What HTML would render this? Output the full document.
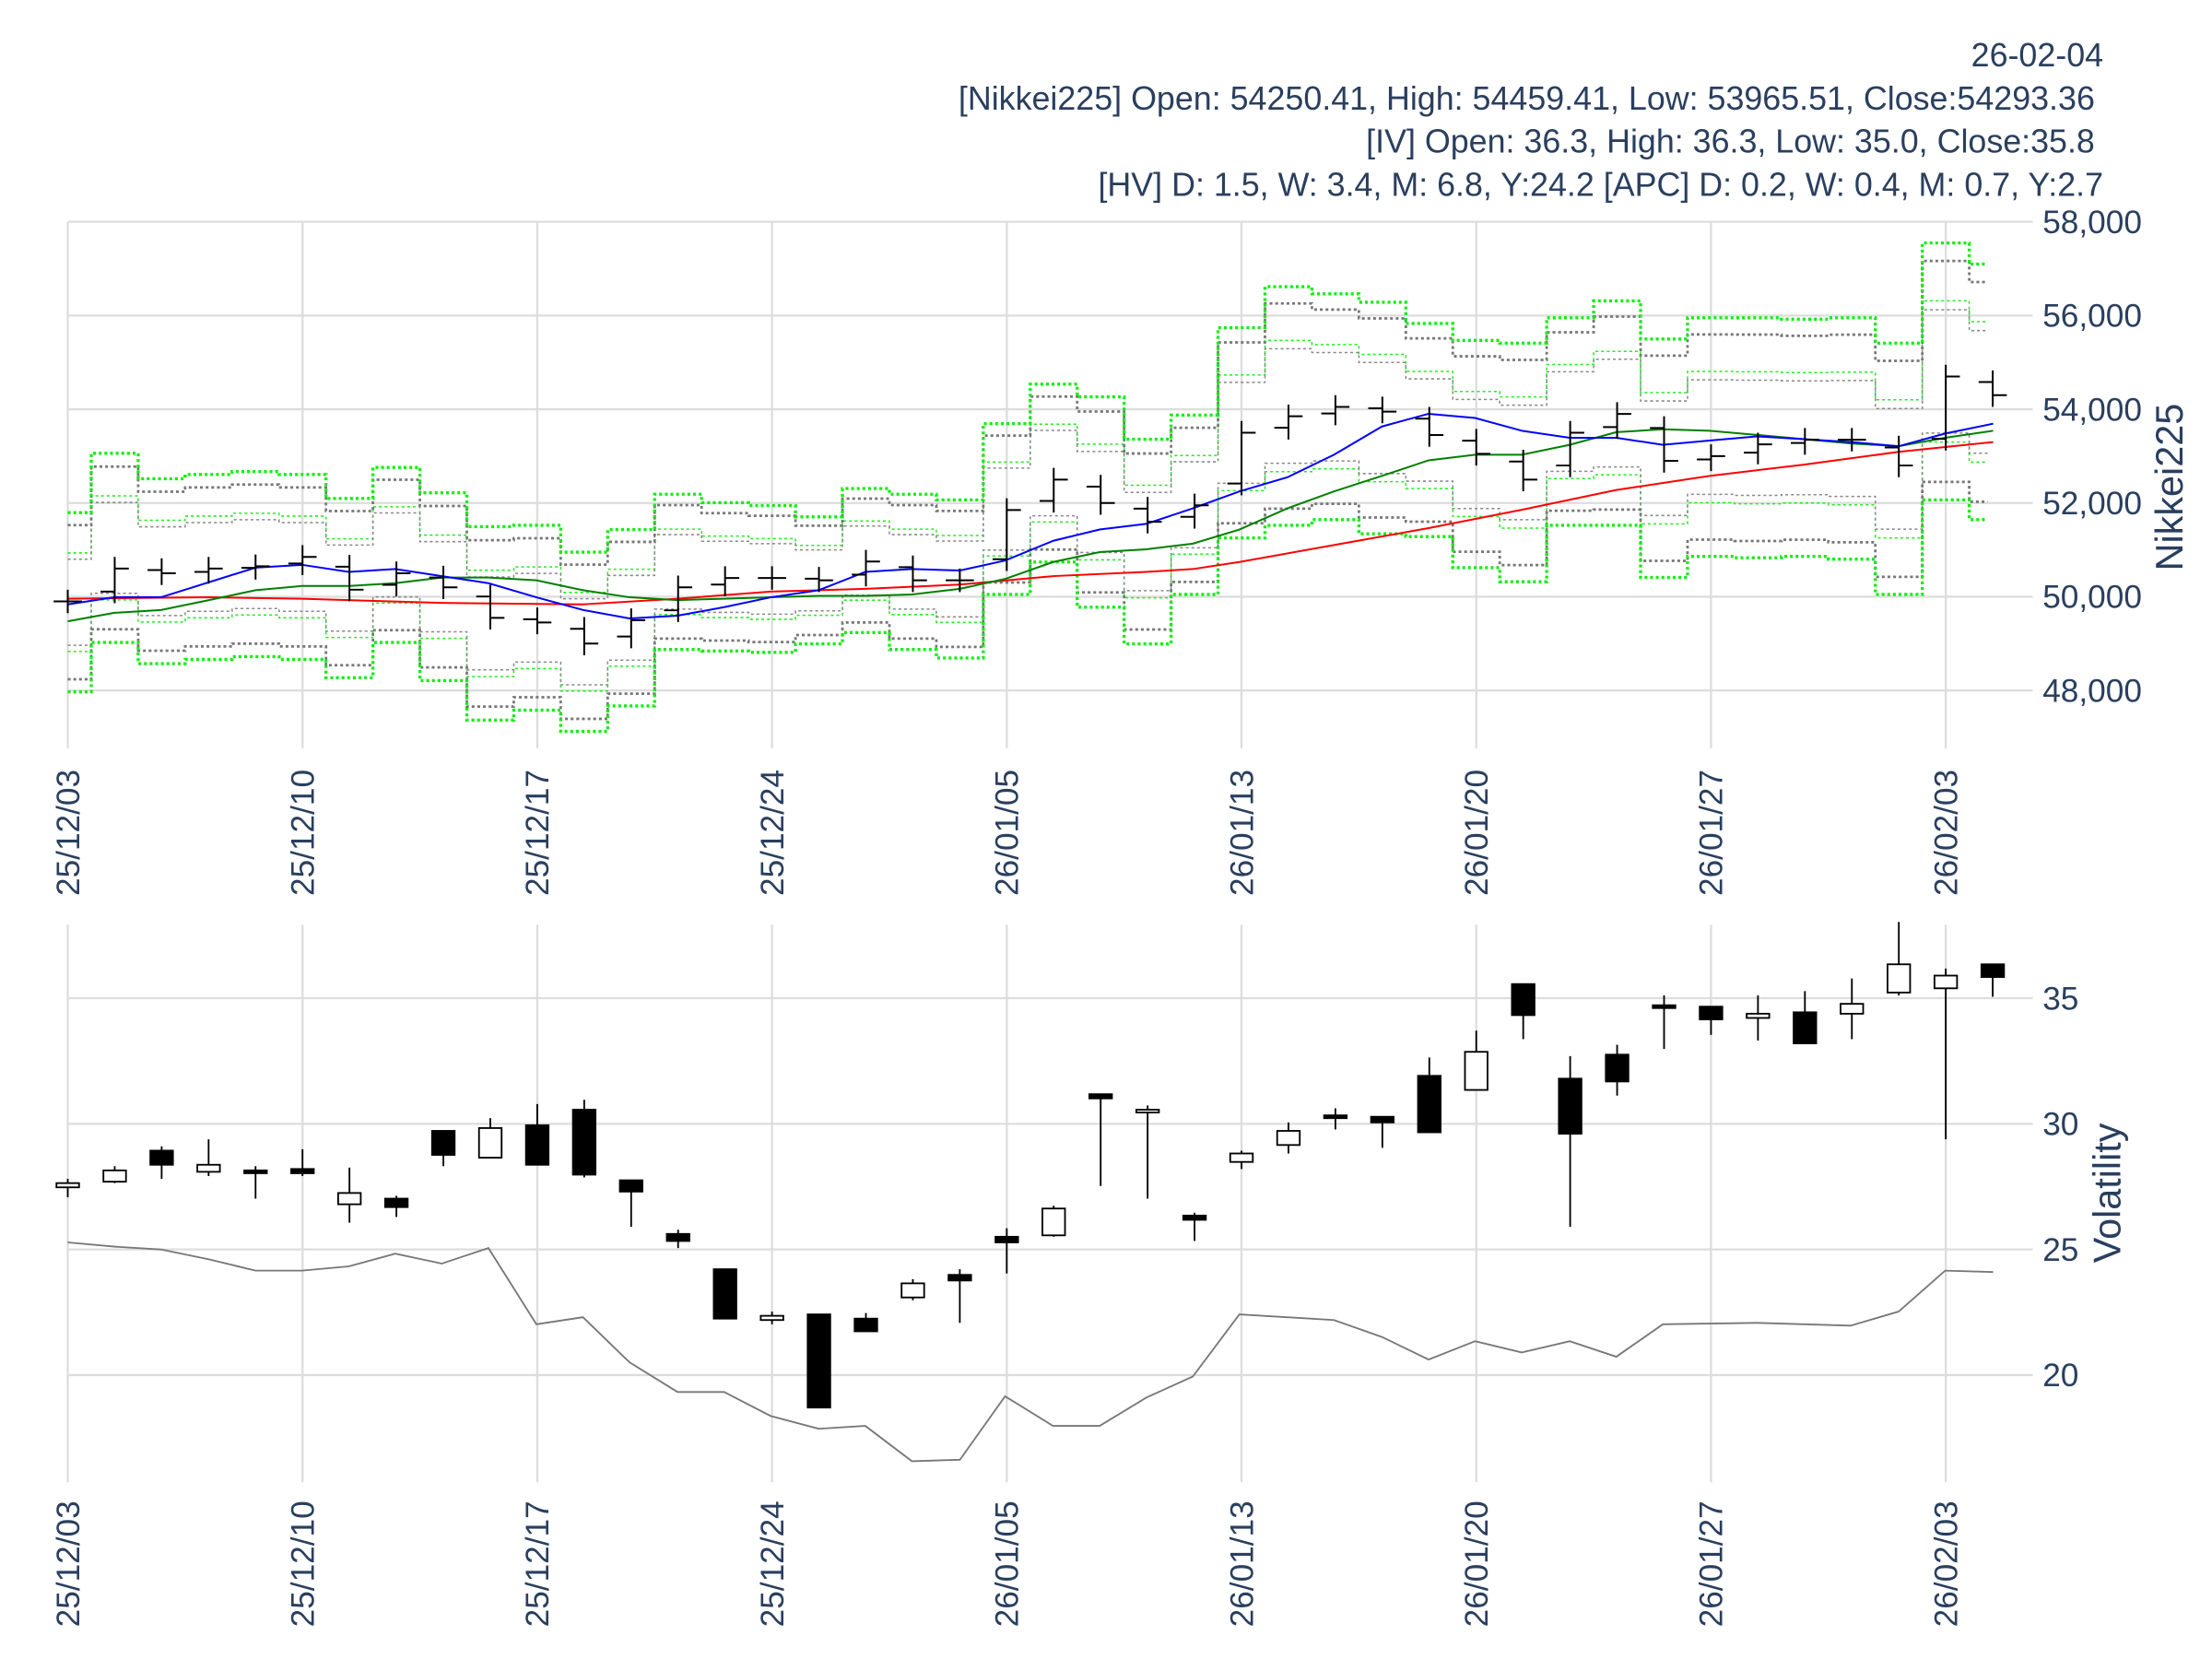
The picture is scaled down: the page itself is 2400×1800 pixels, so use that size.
<!DOCTYPE html>
<html><head><meta charset="utf-8"><style>
html,body{margin:0;padding:0;background:#fff;}
svg{display:block;}
text{font-family:"Liberation Sans",sans-serif;fill:#2a3f5f;}
</style></head><body>
<svg id="s" width="2400" height="1800" viewBox="0 0 1567 1175" xmlns="http://www.w3.org/2000/svg"></svg>
<script>
const S=document.getElementById('s');let h='';
const X=i=>48+i*33.26;
const Y1=v=>157+(58000-v)*0.0332;
const Y2=v=>707+(35-v)*17.8;
for(let v=48000;v<=58000;v+=2000){const y=Y1(v);h+=`<line x1="48" x2="1440" y1="${y}" y2="${y}" stroke="#ddd" stroke-width="1.5"/>`;h+=`<text x="1447" y="${y+8}" font-size="23">${(v/1000).toFixed(0)},000</text>`;}
for(let v=20;v<=35;v+=5){const y=Y2(v);h+=`<line x1="48" x2="1440" y1="${y}" y2="${y}" stroke="#ddd" stroke-width="1.5"/>`;h+=`<text x="1447" y="${y+8}" font-size="23">${v}</text>`;}
const labs=['25/12/03','25/12/10','25/12/17','25/12/24','26/01/05','26/01/13','26/01/20','26/01/27','26/02/03'];
labs.forEach((l,k)=>{const x=48+k*166.3;
h+=`<line x1="${x}" x2="${x}" y1="157" y2="530" stroke="#ddd" stroke-width="1.5"/>`;
h+=`<line x1="${x}" x2="${x}" y1="655" y2="1050" stroke="#ddd" stroke-width="1.5"/>`;
h+=`<text transform="translate(${x+8},545) rotate(-90)" text-anchor="end" font-size="23">${l}</text>`;
h+=`<text transform="translate(${x+8},1063) rotate(-90)" text-anchor="end" font-size="23">${l}</text>`;});
const up=[363,321,339,336,334,336,353,331,349,373,372,391,375,350,356,358,366,346,350,354,300,272,281,311,294,232,203,208,214,229,241,243,225,213,240,225,225,226,225,243,172,187];
const lo=[490,455,470,467,465,467,480,455,482,510,503,518,500,460,461,462,456,448,460,466,421,398,430,456,421,381,372,368,378,380,402,412,372,372,409,394,395,394,396,421,354,368];
function band(f,col,w,dash){let d='';for(let i=0;i<42;i++){const m=(up[i]+lo[i])/2,hh=(lo[i]-up[i])/2;const y=m+f*hh;const x0=Math.max(48,X(i)-16.63),x1=Math.min(1408,X(i)+16.63);d+=(i?'L':'M')+x0+','+y+'L'+x1+','+y;}
h+=`<path d="${d}" fill="none" stroke="${col}" stroke-width="${w}" stroke-dasharray="${dash}"/>`;}
[-1,1].forEach(s=>{band(s*0.55,'#22ee22',1,'2,2');band(s*0.48,'#888',1,'2,2');band(s*0.86,'#777',1.8,'2,2');band(s,'#11ee11',2.2,'2,2');});
function pl(pts,col,w){h+=`<polyline points="${pts}" fill="none" stroke="${col}" stroke-width="${w}"/>`;}
pl("48,424 148,423 214,424 313,427 413,428 480,424 546,419 613,417 680,414 746,408 812,405 845,403 878,398 945,386 1012,374 1078,361 1145,347 1211,337 1278,329 1345,320 1412,313",'red',1.3);
pl("48,440 81,434 114,432 148,425 181,418 214,415 247,415 280,413 313,409 346,409 380,411 413,418 446,423 480,425 513,424 546,423 580,422 613,422 646,421 680,417 712,410 746,398 779,391 812,389 845,385 878,375 912,360 945,348 979,337 1012,326 1045,322 1078,322 1112,315 1145,306 1178,304 1211,305 1245,308 1278,311 1311,314 1345,316 1378,310 1412,305",'green',1.3);
pl("48,428 81,423 114,423 181,402 214,400 247,405 280,403 313,408 346,413 380,423 413,432 446,438 480,436 513,430 546,423 580,418 613,405 646,403 680,404 712,397 746,383 779,375 812,371 845,360 878,348 912,338 945,322 979,302 1012,293 1045,296 1078,305 1112,310 1145,310 1178,315 1211,312 1245,309 1278,311 1311,313 1345,316 1378,307 1412,300",'blue',1.3);
const C=[49900,50600,50500,50600,50650,50850,50150,50500,50200,49550,49450,49000,49500,50200,50400,50400,50350,50750,50350,50350,51850,52500,52000,51600,51950,53500,53850,54050,53950,53450,53050,52500,53500,53900,52900,53000,53250,53350,53350,52800,54700,54300];
for(let i=0;i<42;i++){const o=i?C[i-1]+(C[i]-C[i-1])*0.3:C[0];const hi=Math.max(o,C[i])+250,lw=Math.min(o,C[i])-250;const x=X(i);
h+=`<path d="M${x},${Y1(hi)}V${Y1(lw)}M${x-10},${Y1(o)}H${x}M${x},${Y1(C[i])}H${x+10}" stroke="#000" stroke-width="1.3" fill="none"/>`;}
pl("48,880 81,883 114,885 148,892 181,900 214,900 247,897 280,888 313,895 346,884 380,938 413,933 446,965 480,986 513,986 546,1003 580,1012 613,1010 646,1035 680,1034 712,989 746,1010 779,1010 812,990 845,975 878,931 945,935 979,947 1012,963 1045,950 1078,958 1112,950 1145,961 1178,938 1245,937 1311,939 1345,929 1378,900 1412,901",'#777',1.2);
const K=[[838,841,835,848,0],[829,837,826,838,0],[815,825,812,835,1],[825,830,807,833,0],[829,831,826,849,1],[828,831,814,833,1],[845,853,827,866,0],[849,855,847,862,1],[801,818,801,826,1],[799,820,792,820,0],[797,825,782,825,1],[786,832,779,834,1],[836,844,836,869,1],[874,879,871,884,1],[899,934,899,934,1],[932,935,929,938,0],[931,997,931,997,1],[934,943,930,943,1],[909,919,906,921,0],[903,907,899,937,1],[876,880,870,902,1],[856,875,854,876,0],[775,778,775,840,1],[786,788,783,849,0],[861,864,859,879,1],[817,823,815,828,0],[801,811,795,817,0],[790,792,785,800,1],[791,795,791,813,1],[762,802,749,802,1],[745,772,730,772,0],[697,719,697,736,1],[764,803,748,869,1],[747,766,740,776,1],[712,714,705,743,1],[713,722,713,733,1],[718,721,705,737,0],[717,739,702,739,1],[711,718,693,736,0],[683,703,653,705,0],[691,700,686,807,0],[683,692,683,706,1]];
K.forEach((k,i)=>{const x=X(i);h+=`<line x1="${x}" x2="${x}" y1="${k[2]}" y2="${k[3]}" stroke="#000" stroke-width="1.2"/>`;
h+=`<rect x="${x-8}" y="${k[0]}" width="16" height="${Math.max(k[1]-k[0],1.5)}" fill="${k[4]?'#000':'#fff'}" stroke="#000" stroke-width="1.2"/>`;});
h+=`<text transform="translate(1546,345) rotate(-90)" text-anchor="middle" font-size="27">Nikkei225</text>`;
h+=`<text transform="translate(1502,845) rotate(-90)" text-anchor="middle" font-size="27">Volatility</text>`;
const T=['26-02-04','[Nikkei225] Open: 54250.41, High: 54459.41, Low: 53965.51, Close:54293.36','[IV] Open: 36.3, High: 36.3, Low: 35.0, Close:35.8','[HV] D: 1.5, W: 3.4, M: 6.8, Y:24.2 [APC] D: 0.2, W: 0.4, M: 0.7, Y:2.7'];
const TX=[1490,1484,1484,1490];
T.forEach((t,k)=>{h+=`<text x="${TX[k]}" y="${47+k*30.5}" text-anchor="end" font-size="23.4">${t}</text>`;});
S.innerHTML=h;
</script>
</body></html>
